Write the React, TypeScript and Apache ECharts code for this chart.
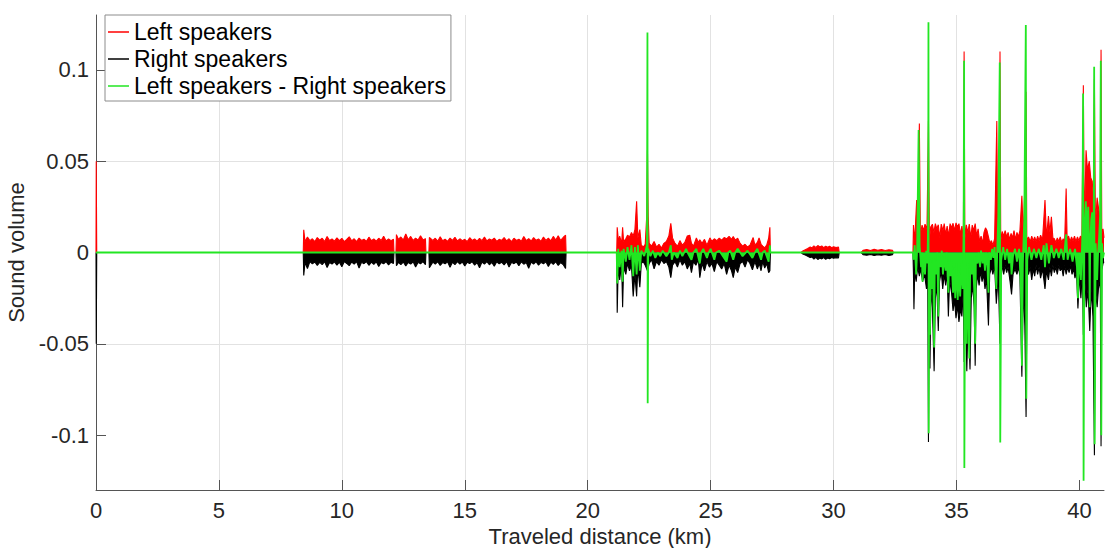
import React, { useEffect, useRef } from "react";
import * as echarts from "echarts";

const xTicks = [0, 5, 10, 15, 20, 25, 30, 35, 40];
const yTicks = [-0.1, -0.05, 0, 0.05, 0.1];
const seriesNames = ["Left speakers", "Right speakers", "Left speakers - Right speakers"];

// [distance km, sound volume]
const leftSpeakers: [number, number][] = [
  [0, 0], [0.01, 0.05], [0.03, 0], [8.43, 0],
  [8.45, 0.0124], [8.5, 0.006], [8.6, 0.0085], [8.7, 0.0065], [8.8, 0.0075], [8.9, 0.006], [9.0, 0.0082],
  [9.1, 0.0068], [9.2, 0.0078], [9.3, 0.006], [9.4, 0.0088], [9.5, 0.0066], [9.6, 0.0074], [9.7, 0.0062],
  [9.8, 0.008], [9.9, 0.0065], [10.0, 0.0077], [10.1, 0.006], [10.2, 0.0072], [10.3, 0.0086], [10.4, 0.0064],
  [10.5, 0.0075], [10.6, 0.006], [10.7, 0.0079], [10.8, 0.0066], [10.9, 0.0073], [11.0, 0.0061], [11.1, 0.0084],
  [11.2, 0.0065], [11.3, 0.0074], [11.4, 0.0062], [11.5, 0.0078], [11.6, 0.0066], [11.7, 0.0089], [11.8, 0.0063],
  [11.9, 0.0074], [12.0, 0.0065], [12.1, 0.0072], [12.12, 0], [12.2, 0], [12.22, 0.0098], [12.3, 0.0072],
  [12.4, 0.0085], [12.5, 0.0068], [12.6, 0.0102], [12.7, 0.007], [12.8, 0.0088], [12.9, 0.0066], [13.0, 0.0079],
  [13.1, 0.0068], [13.2, 0.0092], [13.3, 0.0069], [13.4, 0.0076], [13.42, 0], [13.54, 0], [13.56, 0.0082],
  [13.7, 0.0066], [13.8, 0.0078], [13.9, 0.0062], [14.0, 0.0086], [14.1, 0.0064], [14.2, 0.0073], [14.3, 0.0061],
  [14.4, 0.0079], [14.5, 0.0066], [14.6, 0.0083], [14.7, 0.0063], [14.8, 0.0075], [14.9, 0.0065], [15.0, 0.0072],
  [15.1, 0.006], [15.2, 0.0081], [15.3, 0.0066], [15.4, 0.0074], [15.5, 0.0062], [15.6, 0.0077], [15.7, 0.0065],
  [15.8, 0.0085], [15.9, 0.0063], [16.0, 0.0074], [16.1, 0.0067], [16.2, 0.0079], [16.3, 0.0061], [16.4, 0.0072],
  [16.5, 0.0066], [16.6, 0.0082], [16.7, 0.0064], [16.8, 0.0075], [16.9, 0.006], [17.0, 0.0078], [17.1, 0.0066],
  [17.2, 0.0073], [17.3, 0.0062], [17.4, 0.0087], [17.5, 0.0065], [17.6, 0.0076], [17.7, 0.0063], [17.8, 0.0081],
  [17.9, 0.0067], [18.0, 0.0074], [18.1, 0.0061], [18.2, 0.0085], [18.3, 0.0066], [18.4, 0.0078], [18.5, 0.0064],
  [18.6, 0.0088], [18.7, 0.0068], [18.8, 0.0092], [18.9, 0.0066], [19.0, 0.0082], [19.1, 0.0095], [19.12, 0],
  [21.18, 0], [21.2, 0.0138], [21.25, 0.006], [21.3, 0.009], [21.38, 0.005], [21.42, 0.0138], [21.46, 0.006],
  [21.55, 0.0075], [21.62, 0.0095], [21.7, 0.0085], [21.78, 0.011], [21.85, 0.009], [21.92, 0.0125], [21.99, 0.028],
  [22.04, 0.008], [22.12, 0.0125], [22.18, 0.004], [22.26, 0.003], [22.34, 0.0045], [22.4, 0.02], [22.43, 0.056],
  [22.46, 0.02], [22.5, 0.005], [22.6, 0.0035], [22.7, 0.006], [22.8, 0.003], [22.9, 0.0045], [23.0, 0.0025],
  [23.1, 0.005], [23.2, 0.006], [23.3, 0.009], [23.38, 0.016], [23.45, 0.008], [23.55, 0.005], [23.65, 0.0035],
  [23.75, 0.0065], [23.85, 0.004], [23.95, 0.0055], [24.05, 0.009], [24.15, 0.0095], [24.22, 0.005], [24.3, 0.0035],
  [24.42, 0.008], [24.5, 0.0055], [24.56, 0.007], [24.65, 0.005], [24.75, 0.0072], [24.85, 0.004], [24.97, 0.008],
  [25.05, 0.0062], [25.15, 0.0075], [25.25, 0.0065], [25.35, 0.0078], [25.45, 0.0068], [25.55, 0.0082], [25.65, 0.0075],
  [25.75, 0.0088], [25.85, 0.0072], [25.92, 0.0088], [26.0, 0.0068], [26.1, 0.0078], [26.2, 0.005], [26.3, 0.0035],
  [26.4, 0.0045], [26.5, 0.003], [26.6, 0.004], [26.73, 0.0082], [26.8, 0.004], [26.9, 0.0055], [26.97, 0.008],
  [27.05, 0.0045], [27.12, 0.0035], [27.2, 0.0025], [27.28, 0.004], [27.36, 0.0078], [27.41, 0.0138], [27.43, 0],
  [28.68, 0], [28.75, 0.0008], [28.85, 0.0015], [28.95, 0.0022], [29.05, 0.003], [29.12, 0.0025], [29.2, 0.0036],
  [29.28, 0.0028], [29.36, 0.0038], [29.44, 0.003], [29.52, 0.0036], [29.6, 0.0027], [29.68, 0.0035], [29.76, 0.0029],
  [29.84, 0.0034], [29.92, 0.0026], [30.0, 0.0031], [30.1, 0.0027], [30.2, 0.003], [30.23, 0],
  [31.12, 0], [31.2, 0.0012], [31.35, 0.0016], [31.5, 0.0011], [31.65, 0.0017], [31.8, 0.0012], [31.95, 0.0016],
  [32.1, 0.0011], [32.25, 0.0015], [32.4, 0.0012], [32.43, 0],
  [33.23, 0], [33.25, 0.015], [33.3, 0.006], [33.38, 0.0287], [33.42, 0.008], [33.49, 0.0706], [33.53, 0.01],
  [33.6, 0.015], [33.66, 0.012], [33.72, 0.0155], [33.8, 0.013], [33.86, 0.072], [33.9, 0.006], [33.95, 0.014],
  [34.02, 0.0155], [34.08, 0.011], [34.14, 0.0158], [34.2, 0.013], [34.26, 0.0152], [34.32, 0.008], [34.38, 0.0155],
  [34.45, 0.012], [34.5, 0.0158], [34.56, 0.01], [34.62, 0.0145], [34.68, 0.009], [34.74, 0.0158], [34.8, 0.0135],
  [34.86, 0.016], [34.92, 0.012], [34.98, 0.0162], [35.04, 0.014], [35.1, 0.0158], [35.16, 0.01], [35.22, 0.0145],
  [35.28, 0.006], [35.31, 0.11], [35.34, 0.007], [35.4, 0.0152], [35.46, 0.011], [35.52, 0.0155], [35.58, 0.008],
  [35.64, 0.015], [35.7, 0.012], [35.76, 0.0158], [35.82, 0.009], [35.88, 0.013], [35.94, 0.006], [36.0, 0.009],
  [36.06, 0.005], [36.12, 0.011], [36.18, 0.0135], [36.24, 0.012], [36.3, 0.0085], [36.36, 0.005], [36.42, 0.0065],
  [36.48, 0.004], [36.55, 0.0075], [36.64, 0.072], [36.68, 0.006], [36.74, 0.03], [36.77, 0.11], [36.8, 0.006],
  [36.86, 0.0115], [36.92, 0.009], [36.98, 0.012], [37.04, 0.0085], [37.1, 0.011], [37.16, 0.007], [37.22, 0.0105],
  [37.28, 0.008], [37.34, 0.012], [37.4, 0.007], [37.46, 0.011], [37.52, 0.0085], [37.58, 0.012], [37.66, 0.031],
  [37.72, 0.008], [37.8, 0.046], [37.83, 0.088], [37.86, 0.007], [37.93, 0.0085], [38.0, 0.006], [38.06, 0.009],
  [38.12, 0.0065], [38.18, 0.0085], [38.24, 0.006], [38.3, 0.009], [38.36, 0.0065], [38.42, 0.0095], [38.5, 0.007],
  [38.6, 0.0287], [38.66, 0.008], [38.74, 0.02], [38.8, 0.011], [38.86, 0.0195], [38.92, 0.008], [38.98, 0.0075],
  [39.04, 0.0055], [39.1, 0.008], [39.16, 0.006], [39.22, 0.0085], [39.28, 0.0055], [39.34, 0.0075], [39.4, 0.006],
  [39.46, 0.035], [39.5, 0.007], [39.56, 0.009], [39.62, 0.006], [39.68, 0.0085], [39.74, 0.0065], [39.8, 0.009],
  [39.86, 0.006], [39.92, 0.0085], [39.98, 0.0065], [40.04, 0.009], [40.1, 0.007], [40.16, 0.0916], [40.2, 0.012],
  [40.27, 0.056], [40.33, 0.045], [40.4, 0.05], [40.46, 0.041], [40.52, 0.039], [40.57, 0.03], [40.61, 0.095],
  [40.65, 0.015], [40.72, 0.03], [40.8, 0.022], [40.85, 0.012], [40.88, 0.111], [40.91, 0.01], [40.96, 0.013],
  [41.0, 0.008],
];

const rightSpeakers: [number, number][] = [
  [0, 0], [0.01, -0.05], [0.03, 0], [8.43, 0],
  [8.45, -0.0126], [8.5, -0.0055], [8.6, -0.0088], [8.7, -0.005], [8.8, -0.0062], [8.9, -0.0052], [9.0, -0.0071],
  [9.1, -0.0054], [9.2, -0.0066], [9.3, -0.005], [9.4, -0.0082], [9.5, -0.0055], [9.6, -0.0063], [9.7, -0.0051],
  [9.8, -0.0069], [9.9, -0.0053], [10.0, -0.0078], [10.1, -0.005], [10.2, -0.006], [10.3, -0.0072], [10.4, -0.0052],
  [10.5, -0.0064], [10.6, -0.005], [10.7, -0.0085], [10.8, -0.0054], [10.9, -0.0061], [11.0, -0.005], [11.1, -0.007],
  [11.2, -0.0053], [11.3, -0.0065], [11.4, -0.0051], [11.5, -0.0076], [11.6, -0.0055], [11.7, -0.0062], [11.8, -0.005],
  [11.9, -0.0068], [12.0, -0.0053], [12.1, -0.006], [12.12, 0], [12.2, 0], [12.22, -0.0072], [12.3, -0.0054],
  [12.4, -0.0066], [12.5, -0.0052], [12.6, -0.0074], [12.7, -0.0055], [12.8, -0.0063], [12.9, -0.0051], [13.0, -0.0079],
  [13.1, -0.0054], [13.2, -0.0062], [13.3, -0.005], [13.4, -0.0067], [13.42, 0], [13.54, 0], [13.56, -0.0083],
  [13.7, -0.0053], [13.8, -0.0064], [13.9, -0.005], [14.0, -0.0071], [14.1, -0.0055], [14.2, -0.0062], [14.3, -0.0051],
  [14.4, -0.0081], [14.5, -0.0054], [14.6, -0.0066], [14.7, -0.005], [14.8, -0.0063], [14.9, -0.0052], [15.0, -0.0074],
  [15.1, -0.0053], [15.2, -0.0061], [15.3, -0.005], [15.4, -0.0069], [15.5, -0.0055], [15.6, -0.0084], [15.7, -0.0052],
  [15.8, -0.0063], [15.9, -0.005], [16.0, -0.0067], [16.1, -0.0054], [16.2, -0.0075], [16.3, -0.0051], [16.4, -0.0062],
  [16.5, -0.0053], [16.6, -0.0068], [16.7, -0.005], [16.8, -0.0079], [16.9, -0.0054], [17.0, -0.0061], [17.1, -0.0052],
  [17.2, -0.0072], [17.3, -0.0051], [17.4, -0.0064], [17.5, -0.0055], [17.6, -0.0086], [17.7, -0.0052], [17.8, -0.0063],
  [17.9, -0.005], [18.0, -0.0069], [18.1, -0.0054], [18.2, -0.0062], [18.3, -0.0051], [18.4, -0.0077], [18.5, -0.0053],
  [18.6, -0.0065], [18.7, -0.005], [18.8, -0.0071], [18.9, -0.0055], [19.0, -0.0066], [19.1, -0.0088], [19.12, 0],
  [21.18, 0], [21.2, -0.033], [21.24, -0.008], [21.3, -0.015], [21.38, -0.006], [21.42, -0.03], [21.46, -0.008],
  [21.55, -0.012], [21.62, -0.006], [21.7, -0.01], [21.78, -0.007], [21.85, -0.024], [21.92, -0.012], [21.99, -0.024],
  [22.04, -0.008], [22.12, -0.019], [22.18, -0.006], [22.26, -0.005], [22.34, -0.007], [22.43, -0.01], [22.5, -0.006],
  [22.6, -0.004], [22.7, -0.009], [22.8, -0.005], [22.9, -0.007], [23.0, -0.004], [23.1, -0.006], [23.2, -0.005],
  [23.3, -0.008], [23.38, -0.0138], [23.45, -0.007], [23.55, -0.005], [23.65, -0.008], [23.75, -0.004], [23.85, -0.007],
  [23.95, -0.005], [24.05, -0.009], [24.15, -0.006], [24.22, -0.011], [24.3, -0.005], [24.4, -0.007], [24.5, -0.004],
  [24.56, -0.0138], [24.65, -0.006], [24.75, -0.01], [24.85, -0.005], [24.95, -0.008], [25.05, -0.006], [25.15, -0.0105],
  [25.25, -0.005], [25.35, -0.007], [25.45, -0.009], [25.55, -0.006], [25.65, -0.012], [25.75, -0.007], [25.85, -0.01],
  [25.92, -0.0138], [26.0, -0.008], [26.1, -0.011], [26.2, -0.006], [26.3, -0.005], [26.4, -0.008], [26.5, -0.004],
  [26.6, -0.006], [26.7, -0.0095], [26.8, -0.005], [26.9, -0.009], [26.98, -0.006], [27.05, -0.01], [27.12, -0.005],
  [27.2, -0.0085], [27.28, -0.006], [27.36, -0.011], [27.41, -0.01], [27.43, 0],
  [28.68, 0], [28.75, -0.0008], [28.85, -0.0014], [28.95, -0.002], [29.05, -0.0028], [29.12, -0.0024], [29.2, -0.0036],
  [29.28, -0.0027], [29.36, -0.0038], [29.44, -0.003], [29.52, -0.0035], [29.6, -0.0028], [29.68, -0.0037], [29.76, -0.003],
  [29.84, -0.0034], [29.92, -0.0027], [30.0, -0.0032], [30.1, -0.0028], [30.2, -0.003], [30.23, 0],
  [31.12, 0], [31.2, -0.0012], [31.35, -0.0015], [31.5, -0.0011], [31.65, -0.0016], [31.8, -0.0012], [31.95, -0.0015],
  [32.1, -0.0011], [32.25, -0.0016], [32.4, -0.0012], [32.43, 0],
  [33.23, 0], [33.25, -0.012], [33.27, -0.031], [33.3, -0.01], [33.36, -0.016], [33.42, -0.008], [33.49, -0.013],
  [33.55, -0.009], [33.62, -0.016], [33.7, -0.012], [33.78, -0.02], [33.83, -0.014], [33.86, -0.1037], [33.89, -0.03],
  [33.92, -0.0635], [33.96, -0.02], [34.02, -0.03], [34.09, -0.065], [34.14, -0.025], [34.2, -0.018], [34.26, -0.043],
  [34.31, -0.016], [34.38, -0.01], [34.44, -0.02], [34.5, -0.012], [34.56, -0.018], [34.62, -0.011], [34.67, -0.035],
  [34.72, -0.015], [34.8, -0.022], [34.86, -0.032], [34.92, -0.026], [34.98, -0.036], [35.04, -0.029], [35.1, -0.038],
  [35.16, -0.031], [35.22, -0.035], [35.28, -0.02], [35.31, -0.06], [35.35, -0.02], [35.42, -0.065], [35.48, -0.03],
  [35.55, -0.064], [35.6, -0.025], [35.66, -0.018], [35.72, -0.03], [35.76, -0.062], [35.8, -0.02], [35.86, -0.012],
  [35.92, -0.018], [35.98, -0.01], [36.04, -0.016], [36.1, -0.012], [36.16, -0.02], [36.22, -0.014], [36.3, -0.04],
  [36.35, -0.012], [36.42, -0.008], [36.48, -0.012], [36.55, -0.007], [36.62, -0.028], [36.7, -0.012], [36.77, -0.05],
  [36.8, -0.01], [36.86, -0.008], [36.92, -0.012], [36.98, -0.007], [37.04, -0.011], [37.1, -0.008], [37.18, -0.016],
  [37.24, -0.023], [37.3, -0.012], [37.38, -0.009], [37.46, -0.012], [37.52, -0.008], [37.58, -0.013], [37.66, -0.068],
  [37.72, -0.02], [37.78, -0.04], [37.83, -0.09], [37.87, -0.01], [37.93, -0.012], [38.0, -0.008], [38.06, -0.015],
  [38.12, -0.009], [38.18, -0.013], [38.24, -0.007], [38.3, -0.012], [38.36, -0.008], [38.42, -0.014], [38.5, -0.009],
  [38.6, -0.02], [38.66, -0.01], [38.74, -0.015], [38.8, -0.008], [38.86, -0.013], [38.92, -0.007], [38.98, -0.011],
  [39.04, -0.008], [39.1, -0.012], [39.16, -0.007], [39.22, -0.01], [39.28, -0.008], [39.34, -0.013], [39.4, -0.007],
  [39.46, -0.012], [39.52, -0.008], [39.58, -0.011], [39.64, -0.007], [39.7, -0.012], [39.76, -0.009], [39.82, -0.014],
  [39.88, -0.01], [39.94, -0.0307], [40.0, -0.012], [40.06, -0.025], [40.12, -0.01], [40.16, -0.045], [40.22, -0.015],
  [40.28, -0.03], [40.35, -0.02], [40.42, -0.043], [40.48, -0.02], [40.55, -0.035], [40.61, -0.111], [40.65, -0.02],
  [40.72, -0.03], [40.8, -0.015], [40.85, -0.02], [40.88, -0.106], [40.91, -0.01], [40.96, -0.006], [41.0, -0.005],
];

const leftMinusRight: [number, number][] = [
  [0, 0], [21.18, 0],
  [21.2, -0.017], [21.24, 0.002], [21.3, -0.008], [21.38, 0.001], [21.42, -0.016], [21.46, 0.002], [21.55, -0.005],
  [21.62, 0.003], [21.7, -0.004], [21.78, 0.004], [21.85, -0.013], [21.92, 0.003], [21.99, -0.012], [22.04, 0.004],
  [22.12, -0.01], [22.18, 0.001], [22.3, -0.002], [22.41, 0.004], [22.43, 0.1204], [22.44, -0.0825], [22.46, 0.002],
  [22.55, -0.002], [22.65, 0.001], [22.75, -0.003], [22.85, 0], [22.95, -0.002], [23.05, 0.001], [23.2, -0.002],
  [23.3, 0], [23.38, 0.004], [23.42, -0.004], [23.5, 0], [23.65, -0.003], [23.75, 0.001], [23.85, -0.002],
  [24.0, 0.002], [24.1, -0.001], [24.22, -0.004], [24.3, 0], [24.42, 0.002], [24.56, -0.006], [24.62, 0],
  [24.7, 0.002], [24.85, -0.003], [24.92, 0], [25.0, 0.002], [25.15, -0.004], [25.22, 0], [25.35, 0.001],
  [25.5, -0.002], [25.65, -0.005], [25.72, 0], [25.8, 0.001], [25.92, -0.004], [26.0, 0], [26.1, 0.002],
  [26.3, -0.002], [26.5, 0.001], [26.7, -0.003], [26.8, 0], [26.9, 0.002], [27.05, -0.004], [27.12, 0],
  [27.2, 0.001], [27.36, -0.005], [27.41, 0.004], [27.43, 0],
  [33.23, 0], [33.25, -0.004], [33.3, 0.004], [33.36, -0.012], [33.4, 0.002], [33.46, 0.067], [33.5, 0.004],
  [33.56, -0.008], [33.59, 0], [33.62, -0.016], [33.66, -0.002], [33.72, -0.012], [33.77, 0.001], [33.82, -0.006],
  [33.85, 0.02], [33.86, 0.126], [33.87, -0.099], [33.89, -0.005], [33.92, -0.045], [33.96, -0.004], [34.02, -0.02],
  [34.05, -0.003], [34.09, -0.052], [34.12, -0.004], [34.18, -0.012], [34.22, 0], [34.26, -0.035], [34.29, -0.002],
  [34.36, -0.008], [34.4, 0.001], [34.45, -0.012], [34.5, -0.002], [34.56, -0.01], [34.6, 0], [34.67, -0.022],
  [34.7, -0.003], [34.76, -0.013], [34.8, -0.004], [34.86, -0.022], [34.9, -0.008], [34.95, -0.025], [35.0, -0.006],
  [35.05, -0.026], [35.1, -0.01], [35.15, -0.024], [35.2, -0.006], [35.25, -0.02], [35.29, 0.01], [35.31, 0.105],
  [35.32, -0.118], [35.35, -0.004], [35.42, -0.05], [35.46, -0.006], [35.52, -0.058], [35.56, -0.004], [35.62, -0.012],
  [35.66, -0.002], [35.72, -0.02], [35.76, -0.05], [35.79, -0.002], [35.86, -0.006], [35.9, 0], [35.96, -0.008],
  [36.0, 0.001], [36.06, -0.006], [36.1, 0], [36.16, -0.01], [36.2, 0], [36.26, -0.008], [36.3, -0.022],
  [36.33, 0], [36.4, -0.004], [36.45, 0.002], [36.5, -0.003], [36.55, 0.003], [36.62, -0.02], [36.66, 0.002],
  [36.7, 0.02], [36.76, 0.104], [36.78, -0.104], [36.82, -0.004], [36.9, 0.003], [36.98, -0.004], [37.06, 0.002],
  [37.14, -0.006], [37.2, 0], [37.24, -0.012], [37.3, -0.002], [37.38, 0.002], [37.46, -0.005], [37.55, 0.002],
  [37.62, -0.02], [37.66, -0.062], [37.7, -0.006], [37.76, 0.02], [37.82, 0.1245], [37.84, -0.08], [37.88, -0.004],
  [37.95, 0.003], [38.05, -0.004], [38.15, 0.002], [38.25, -0.003], [38.35, 0.002], [38.45, -0.004], [38.55, 0.004],
  [38.6, -0.008], [38.66, 0.005], [38.76, -0.006], [38.86, 0.004], [38.96, -0.003], [39.06, 0.002], [39.16, -0.003],
  [39.26, 0.002], [39.36, -0.004], [39.46, 0.01], [39.52, -0.004], [39.62, 0.002], [39.72, -0.005], [39.82, 0.002],
  [39.9, -0.008], [39.94, -0.025], [39.98, -0.002], [40.06, -0.015], [40.1, 0], [40.12, 0.01], [40.15, 0.087],
  [40.17, -0.125], [40.2, 0.01], [40.26, 0.028], [40.3, 0.012], [40.36, 0.025], [40.4, 0], [40.42, -0.03],
  [40.44, 0.004], [40.48, 0.018], [40.52, 0.022], [40.58, 0.01], [40.6, 0.1017], [40.62, -0.105], [40.66, 0.005],
  [40.72, -0.015], [40.76, 0], [40.8, 0.008], [40.84, 0.02], [40.87, 0.105], [40.89, -0.1], [40.92, 0.005],
  [40.96, -0.003], [41.0, 0],
];

const seriesColors = ["#ff0000", "#000000", "#22e622"];
const seriesData = [leftSpeakers, rightSpeakers, leftMinusRight];

const FONT = "'Liberation Sans', Arial, sans-serif";

export default function App() {
  const ref = useRef<HTMLDivElement>(null);
  useEffect(() => {
    if (!ref.current) return;
    const chart = echarts.init(ref.current, undefined, { renderer: "svg" });
    chart.setOption({
      animation: false,
      backgroundColor: "#ffffff",
      textStyle: { fontFamily: FONT },
      grid: { left: 96, right: 2, top: 15, bottom: 58, containLabel: false, outerBoundsMode: "none" },
      legend: {
        data: seriesNames,
        orient: "vertical",
        left: 105,
        top: 15,
        icon: "rect",
        itemWidth: 21,
        itemHeight: 1.5,
        itemGap: 1,
        padding: [4, 5, 2, 3],
        borderColor: "#8c8c8c",
        borderWidth: 1,
        backgroundColor: "#ffffff",
        textStyle: { fontSize: 23, color: "#000000", fontFamily: FONT, lineHeight: 26 },
      },
      xAxis: {
        type: "value",
        min: 0,
        max: 41,
        interval: 5,
        name: "Traveled distance (km)",
        nameLocation: "middle",
        nameGap: 33,
        nameTextStyle: { fontSize: 22, lineHeight: 22, color: "#262626", fontFamily: FONT },
        axisLine: { onZero: false, lineStyle: { color: "#555555", width: 1 } },
        axisTick: { inside: true, length: 10, customValues: xTicks, lineStyle: { color: "#555555" } },
        axisLabel: { customValues: xTicks, fontSize: 22, color: "#262626", margin: 9, fontFamily: FONT },
        splitLine: { show: true, showMaxLine: false, lineStyle: { color: "#e2e2e2", width: 1 } },
      },
      yAxis: {
        type: "value",
        min: -0.13,
        max: 0.13,
        name: "Sound volume",
        nameLocation: "middle",
        nameGap: 62,
        nameTextStyle: { fontSize: 22, color: "#262626", fontFamily: FONT },
        axisLine: { show: true, onZero: false, lineStyle: { color: "#555555", width: 1 } },
        axisTick: { show: true, inside: true, length: 10, customValues: yTicks, lineStyle: { color: "#555555" } },
        axisLabel: { customValues: yTicks, fontSize: 22, color: "#262626", margin: 7, fontFamily: FONT },
        splitLine: { show: true, showMinLine: false, showMaxLine: false, lineStyle: { color: "#e2e2e2", width: 1 } },
      },
      series: seriesNames.map((name, i) => ({
        name,
        type: "line",
        data: seriesData[i],
        showSymbol: false,
        symbol: "none",
        z: 2 + i,
        lineStyle: { color: seriesColors[i], width: i === 2 ? 1.8 : 1.1 },
        itemStyle: { color: seriesColors[i] },
        areaStyle: { color: seriesColors[i], opacity: 1 },
      })),
    });
    return () => chart.dispose();
  }, []);
  return (
    <div
      ref={ref}
      style={{ position: "fixed", left: 0, top: 0, width: 1106, height: 548, background: "#fff" }}
    />
  );
}
